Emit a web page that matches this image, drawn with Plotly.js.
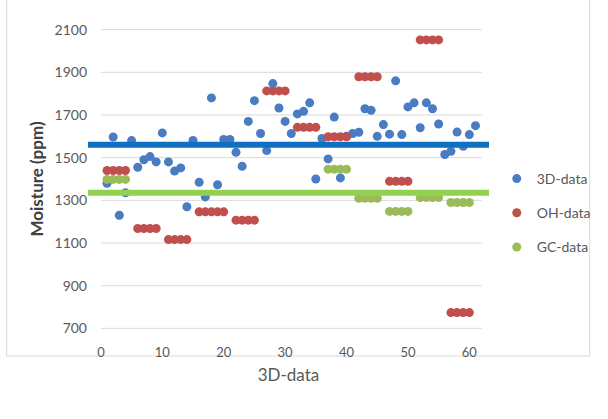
<!DOCTYPE html>
<html>
<head>
<meta charset="utf-8">
<script src="https://cdn.plot.ly/plotly-3.0.1.min.js"></script>
<style>html,body{margin:0;padding:0;background:#fff;}#chart{width:608px;height:419px;}</style>
</head>
<body>
<div id="chart"></div>
<script>
// ---- data ----
var threeDX = [1,2,3,4,5,6,7,8,9,10,11,12,13,14,15,16,17,18,19,20,21,22,23,24,25,26,27,28,29,30,
  31,32,33,34,35,36,37,38,39,40,41,42,43,44,45,46,47,48,49,50,51,52,53,54,55,56,57,58,59,60,61];
var threeDY = [1380,1597,1230,1335,1580,1455,1490,1505,1480,1616,1480,1437,1452,1270,1581,1385,1316,1780,1373,1585,
  1585,1525,1460,1670,1767,1613,1533,1847,1733,1670,1613,1705,1717,1757,1400,1590,1494,1690,1405,1600,
  1613,1619,1729,1722,1600,1655,1610,1860,1608,1738,1757,1640,1757,1729,1658,1515,1530,1620,1553,1608,1650];

var ohX = [1,2,3,4, 6,7,8,9, 11,12,13,14, 16,17,18,19,20, 22,23,24,25, 27,28,29,30,
  32,33,34,35, 37,38,39,40, 42,43,44,45, 47,48,49,50, 52,53,54,55, 57,58,59,60];
var ohY = [1440,1440,1440,1440, 1168,1168,1168,1168, 1116,1116,1116,1116, 1246,1246,1246,1246,1246,
  1207,1207,1207,1207, 1813,1813,1813,1813, 1642,1642,1642,1642, 1598,1598,1598,1598,
  1879,1879,1879,1879, 1389,1389,1389,1389, 2052,2052,2052,2052, 774,774,774,774];

var gcX = [1,2,3,4, 37,38,39,40, 42,43,44,45, 47,48,49,50, 52,53,54,55, 57,58,59,60];
var gcY = [1398,1398,1398,1398, 1446,1446,1446,1446, 1310,1310,1310,1310,
  1248,1248,1248,1248, 1313,1313,1313,1313, 1290,1290,1290,1290];

var lineX = [-2.1, 63.2];
var blueLineY = [1560, 1560];
var greenLineY = [1335, 1335];

var yTicks = [700,900,1100,1300,1500,1700,1900,2100];
var xTicks = [0,10,20,30,40,50,60];
var gridXEnd = [0, 62];

// ---- chart ----
var FONT = "Lato, 'Open Sans', sans-serif";
var ML = 88, MR = 106, MT = 29, MB = 90, W = 608, H = 419;
var pw = W - ML - MR, ph = H - MT - MB;

var traces = [
  {x: threeDX, y: threeDY, type: 'scatter', mode: 'markers', name: '3D-data',
   legendgroup: 'a', marker: {color: '#4A7CC3', size: 9}},
  {x: ohX, y: ohY, type: 'scatter', mode: 'markers', name: 'OH-data',
   legendgroup: 'b', marker: {color: '#C0504D', size: 9}},
  {x: gcX, y: gcY, type: 'scatter', mode: 'markers', name: 'GC-data',
   legendgroup: 'c', marker: {color: '#9BBB59', size: 9}},
  {x: lineX, y: blueLineY, type: 'scatter', mode: 'lines', showlegend: false,
   hoverinfo: 'skip', line: {color: '#0F6FC0', width: 6}},
  {x: lineX, y: greenLineY, type: 'scatter', mode: 'lines', showlegend: false,
   hoverinfo: 'skip', line: {color: '#92D050', width: 6}}
];

var shapes = yTicks.map(function (v) {
  return {type: 'line', xref: 'x', yref: 'y', x0: gridXEnd[0], x1: gridXEnd[1], y0: v, y1: v,
          line: {color: '#D9D9D9', width: 1}, layer: 'below'};
});
// outer chart border
shapes.push({type: 'rect', xref: 'paper', yref: 'paper',
  x0: (4 - ML) / pw, x1: (606 - ML) / pw, y0: (H - MT - 417) / ph, y1: (H - MT - 8) / ph,
  line: {color: '#D9D9D9', width: 1}, layer: 'below'});

var layout = {
  width: W, height: H,
  margin: {l: ML, r: MR, t: MT, b: MB, pad: 0},
  paper_bgcolor: '#ffffff', plot_bgcolor: 'rgba(0,0,0,0)',
  font: {family: FONT, color: '#595959', size: 13},
  showlegend: true,
  xaxis: {
    range: [-2.1, 63.2], tickvals: xTicks, ticktext: xTicks.map(String),
    showgrid: false, zeroline: false, showline: false, ticks: '', ticklen: 0,
    ticklabelstandoff: 14, automargin: false,
    tickfont: {family: FONT, size: 13, color: '#595959'},
    title: {text: '3D-data', standoff: 10, font: {family: FONT, size: 17, color: '#595959'}}
  },
  yaxis: {
    range: [697, 2103], tickvals: yTicks, ticktext: yTicks.map(String),
    showgrid: false, zeroline: false, showline: false, ticks: '', ticklen: 0,
    automargin: false,
    tickfont: {family: FONT, size: 14, color: '#595959'},
    title: {text: 'Moisture (ppm)', standoff: 6, font: {family: FONT, size: 17, color: '#404040', weight: 'bold'}}
  },
  legend: {
    x: (510 - ML) / pw, y: (H - MB - 163) / ph, xanchor: 'left', yanchor: 'top',
    font: {family: FONT, size: 14, color: '#595959'},
    tracegroupgap: 13, bgcolor: 'rgba(0,0,0,0)', traceorder: 'grouped'
  },
  shapes: shapes
};

Plotly.newPlot('chart', traces, layout, {displayModeBar: false, staticPlot: true});
</script>
</body>
</html>
